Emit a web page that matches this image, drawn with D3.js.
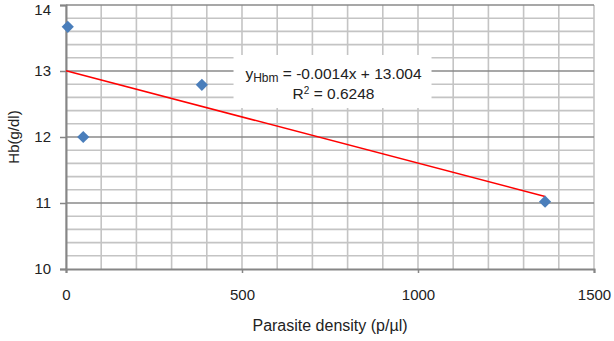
<!DOCTYPE html>
<html>
<head>
<meta charset="utf-8">
<script src="https://cdn.jsdelivr.net/npm/d3@7"></script>
<style>
  body { margin: 0; background: #fff; }
  text { font-family: "Liberation Sans", Arial, sans-serif; fill: #222; }
</style>
</head>
<body>
<div id="chart"></div>
<script>
// data
const density = [5, 49, 386, 1361];
const hb = [13.67, 12.0, 12.79, 11.02];
const xTicks = [0, 500, 1000, 1500];
const yTicks = [10, 11, 12, 13, 14];
const slope = -0.0014, intercept = 13.004, r2 = "0.6248";

const W = 614, H = 341;
const margin = {top: 5, right: 20, bottom: 72, left: 66};
const width = W - margin.left - margin.right,
    height = H - margin.top - margin.bottom;

const svg = d3.select("#chart")
    .append("svg")
    .attr("width", W)
    .attr("height", H)
    .append("g")
    .attr("transform", `translate(${margin.left}, ${margin.top})`);

const x = d3.scaleLinear().domain([0, 1500]).range([0, width]);
const y = d3.scaleLinear().domain([10, 14]).range([height, 0]);

// minor gridlines
svg.append("g")
    .selectAll("line")
    .data(d3.range(0, 1501, 100))
    .enter().append("line")
    .attr("x1", d => x(d)).attr("x2", d => x(d))
    .attr("y1", 0).attr("y2", height)
    .attr("stroke", "#c4c4c4").attr("stroke-width", 1.6);

svg.append("g")
    .selectAll("line")
    .data(d3.range(10, 14.01, 0.2).filter(d => Math.abs(d - Math.round(d)) > 0.01))
    .enter().append("line")
    .attr("x1", 0).attr("x2", width)
    .attr("y1", d => y(d)).attr("y2", d => y(d))
    .attr("stroke", "#c4c4c4").attr("stroke-width", 1.6);

// major horizontal gridlines
svg.append("g")
    .selectAll("line")
    .data(yTicks.slice(1))
    .enter().append("line")
    .attr("x1", 0).attr("x2", width)
    .attr("y1", d => y(d)).attr("y2", d => y(d))
    .attr("stroke", "#8a8a8a").attr("stroke-width", 1.6);

// axes
const xAxis = svg.append("g")
    .attr("transform", `translate(0, ${height})`)
    .call(d3.axisBottom(x).tickValues(xTicks).tickSize(4).tickPadding(16).tickFormat(d3.format("d")));
const yAxis = svg.append("g")
    .call(d3.axisLeft(y).tickValues(yTicks).tickSize(6).tickPadding(9).tickFormat(d3.format("d")));

[xAxis, yAxis].forEach(a => {
    a.select(".domain").attr("stroke", "#868686").attr("stroke-width", 2);
    a.selectAll(".tick line").attr("stroke", "#868686").attr("stroke-width", 1.5);
    a.selectAll(".tick text").style("font-size", "15px").attr("fill", "#222");
});
// keep the top label inside the page
yAxis.selectAll(".tick text").filter(d => d === 14).attr("dy", "0.62em");

// trendline
const xMax = d3.max(density);
svg.append("line")
    .attr("x1", x(0)).attr("y1", y(intercept))
    .attr("x2", x(xMax)).attr("y2", y(slope * xMax + intercept))
    .attr("stroke", "#ff0000").attr("stroke-width", 1.5);

// points
svg.selectAll("mypoint")
    .data(density.map((d, i) => [d, hb[i]]))
    .enter()
    .append("path")
    .attr("d", d3.symbol().type(d3.symbolDiamond2).size(95))
    .attr("transform", d => `translate(${x(d[0])}, ${y(d[1])})`)
    .attr("fill", "#4a7ebb");

// equation label
const lab = svg.append("g").attr("transform", `translate(${x(760)}, ${y(13.0)})`);
lab.append("rect")
    .attr("x", -100).attr("y", -16)
    .attr("width", 198).attr("height", 53)
    .attr("fill", "#fff");
const eq = lab.append("text").attr("text-anchor", "middle").attr("y", 8).style("font-size", "15.5px");
eq.append("tspan").text("y");
eq.append("tspan").text("Hbm").attr("dy", 3).style("font-size", "12px");
eq.append("tspan").text(` = ${slope}x + ${intercept}`).attr("dy", -3);
const rt = lab.append("text").attr("text-anchor", "middle").attr("y", 28).style("font-size", "15.5px");
rt.append("tspan").text("R");
rt.append("tspan").text("2").attr("dy", -5).style("font-size", "10px");
rt.append("tspan").text(` = ${r2}`).attr("dy", 5);

// axis titles
svg.append("text")
    .attr("x", width / 2).attr("y", height + 62)
    .attr("text-anchor", "middle")
    .style("font-size", "16px")
    .text("Parasite density (p/µl)");
svg.append("text")
    .attr("transform", `translate(${-47}, ${height / 2}) rotate(-90)`)
    .attr("text-anchor", "middle")
    .style("font-size", "15px")
    .text("Hb(g/dl)");
</script>
</body>
</html>
